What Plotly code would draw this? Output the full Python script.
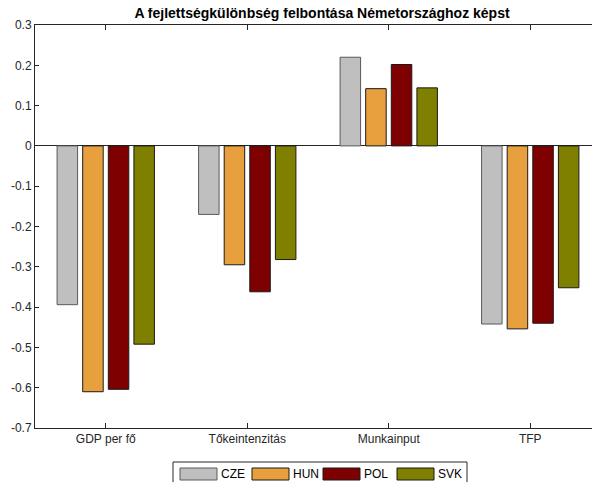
import plotly.graph_objects as go

categories = ["GDP per fő", "Tőkeintenzitás", "Munkainput", "TFP"]
series_names = ["CZE", "HUN", "POL", "SVK"]
cze = [-0.394, -0.170, 0.220, -0.442]
hun = [-0.610, -0.295, 0.142, -0.454]
pol = [-0.604, -0.362, 0.202, -0.440]
svk = [-0.492, -0.282, 0.144, -0.352]
series_values = [cze, hun, pol, svk]
y_tick_vals = [0.3, 0.2, 0.1, 0, -0.1, -0.2, -0.3, -0.4, -0.5, -0.6, -0.7]
y_tick_text = ["0.3", "0.2", "0.1", "0", "-0.1", "-0.2", "-0.3", "-0.4", "-0.5", "-0.6", "-0.7"]

fill_colors = ["#BFBFBF", "#E89F3E", "#7F0000", "#7F7F00"]
edge_colors = ["#5a5a5a", "#1a1a1a", "#1a1a1a", "#1a1a1a"]

OFF = 8  # page body margin
W, H = 600 - OFF, 482 - OFF
L, R, T = 35 - OFF, 0, 25 - OFF
B = H - (428 - OFF)
pw, ph = W - L - R, H - T - B

def px(x):
    return (x - OFF - L) / pw

def py(y):
    return (H - B - (y - OFF)) / ph

fig = go.Figure()
for name, vals, fc, ec in zip(series_names, series_values, fill_colors, edge_colors):
    fig.add_trace(go.Bar(
        x=list(range(len(categories))), y=vals, name=name,
        marker=dict(color=fc, line=dict(color=ec, width=1)),
        showlegend=False,
    ))

axis_color = "#262626"
font = dict(family="Liberation Sans, Arial, sans-serif", size=12, color=axis_color)

fig.update_layout(
    width=W, height=H,
    margin=dict(l=L, r=R, t=T, b=B),
    paper_bgcolor="white", plot_bgcolor="white",
    barmode="group", bargap=0.276, bargroupgap=0.2,
    font=font,
    title=dict(text="<b>A fejlettségkülönbség felbontása Németországhoz képst</b>",
               x=(322 - OFF) / W, xanchor="center", xref="container",
               y=1.0, yanchor="top", yref="container",
               pad=dict(t=0, b=0),
               font=dict(family="Liberation Sans, Arial, sans-serif", size=14, color="black")),
    xaxis=dict(
        range=[-0.5, -0.5 + pw / 141.5],
        tickmode="array", tickvals=list(range(len(categories))), ticktext=categories,
        ticks="inside", ticklen=5, tickcolor=axis_color, tickwidth=1,
        showline=True, linecolor=axis_color, linewidth=1, mirror="ticks",
        showgrid=False, zeroline=False, tickfont=font,
    ),
    yaxis=dict(
        range=[-0.7, 0.3],
        tickmode="array", tickvals=y_tick_vals, ticktext=y_tick_text,
        ticks="inside", ticklen=4, tickcolor=axis_color, tickwidth=1,
        showline=True, linecolor=axis_color, linewidth=1, mirror="ticks",
        showgrid=False, zeroline=True, zerolinecolor=axis_color, zerolinewidth=1,
        tickfont=font,
    ),
)

# custom legend (box with wide swatches)
shapes = [dict(type="rect", xref="paper", yref="paper",
               x0=px(173), x1=px(467), y0=py(488), y1=py(462),
               line=dict(color=axis_color, width=1), fillcolor="white", layer="above")]
swatch_x = [180, 252, 323, 397]
swatch_w = 37
annotations = []
for name, fc, ec, sx in zip(series_names, fill_colors, edge_colors, swatch_x):
    shapes.append(dict(type="rect", xref="paper", yref="paper",
                       x0=px(sx), x1=px(sx + swatch_w), y0=py(480), y1=py(468),
                       line=dict(color=ec, width=1), fillcolor=fc, layer="above"))
    annotations.append(dict(text=name, xref="paper", yref="paper",
                            x=px(sx + swatch_w + 2), y=py(474),
                            xanchor="left", yanchor="middle", showarrow=False,
                            font=dict(family="Liberation Sans, Arial, sans-serif", size=12, color="black")))
fig.update_layout(shapes=shapes, annotations=annotations)

fig.write_html("out.html")
